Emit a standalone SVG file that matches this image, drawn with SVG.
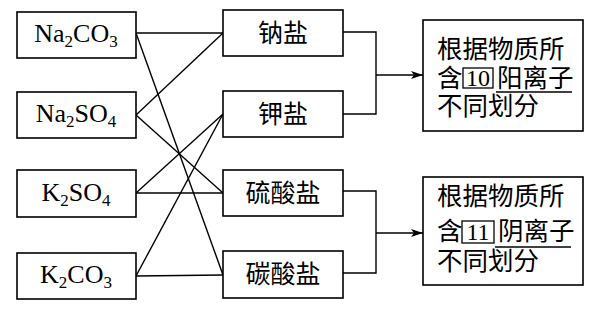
<svg xmlns="http://www.w3.org/2000/svg" width="591" height="318" viewBox="0 0 591 318">
<defs>
<style>
.box{fill:#fff;stroke:#000;stroke-width:1.6}
.ln{fill:none;stroke:#000;stroke-width:1.4}
.f{font-family:"Liberation Serif","Times New Roman",serif;font-size:26px;fill:#000}
.c{font-family:"Noto Sans CJK SC","Noto Sans",sans-serif;font-size:25px;fill:#000}
.r{font-family:"Noto Sans CJK SC","Noto Sans",sans-serif;font-size:25.5px;fill:#000}
.n{font-family:"Liberation Serif","Times New Roman",serif;font-size:24px;fill:#000}
</style>
<marker id="ar" viewBox="0 0 12 8" refX="12" refY="4" markerWidth="12" markerHeight="8" markerUnits="userSpaceOnUse" orient="auto">
<path d="M0,0 L12,4 L0,8 L3,4 Z" fill="#000"/>
</marker>
</defs>
<g id="connectors">
<line class="ln" x1="136" y1="33" x2="223" y2="33"/>
<line class="ln" x1="136" y1="33" x2="223" y2="275"/>
<line class="ln" x1="136" y1="115" x2="223" y2="33"/>
<line class="ln" x1="136" y1="115" x2="223" y2="193"/>
<line class="ln" x1="136" y1="193" x2="223" y2="114"/>
<line class="ln" x1="136" y1="193" x2="223" y2="193"/>
<line class="ln" x1="136" y1="276" x2="223" y2="114"/>
<line class="ln" x1="136" y1="276" x2="223" y2="275"/>
<polyline class="ln" points="343,32 376,32 376,114 343,114"/>
<line class="ln" x1="376" y1="75" x2="423" y2="75" marker-end="url(#ar)"/>
<polyline class="ln" points="343,191 376,191 376,273 343,273"/>
<line class="ln" x1="376" y1="233" x2="423" y2="233" marker-end="url(#ar)"/>
</g>
<g id="na2co3"><rect class="box" x="17" y="12" width="119" height="46"/><text class="f" x="76" y="42" text-anchor="middle">Na<tspan font-size="17" dy="5">2</tspan><tspan dy="-5">CO</tspan><tspan font-size="17" dy="5">3</tspan></text></g>
<g id="na2so4"><rect class="box" x="17" y="92" width="119" height="46"/><text class="f" x="76" y="122" text-anchor="middle">Na<tspan font-size="17" dy="5">2</tspan><tspan dy="-5">SO</tspan><tspan font-size="17" dy="5">4</tspan></text></g>
<g id="k2so4"><rect class="box" x="17" y="170" width="119" height="47"/><text class="f" x="76" y="201" text-anchor="middle">K<tspan font-size="17" dy="5">2</tspan><tspan dy="-5">SO</tspan><tspan font-size="17" dy="5">4</tspan></text></g>
<g id="k2co3"><rect class="box" x="17" y="253" width="119" height="46"/><text class="f" x="76" y="283" text-anchor="middle">K<tspan font-size="17" dy="5">2</tspan><tspan dy="-5">CO</tspan><tspan font-size="17" dy="5">3</tspan></text></g>
<g id="nayan"><rect class="box" x="223" y="10" width="120" height="46"/><text class="c" x="283" y="42" text-anchor="middle">钠盐</text></g>
<g id="jiayan"><rect class="box" x="223" y="91" width="120" height="46"/><text class="c" x="283" y="123" text-anchor="middle">钾盐</text></g>
<g id="liusuanyan"><rect class="box" x="223" y="170" width="120" height="46"/><text class="c" x="283" y="202" text-anchor="middle">硫酸盐</text></g>
<g id="tansuanyan"><rect class="box" x="223" y="251" width="120" height="47"/><text class="c" x="283" y="283" text-anchor="middle">碳酸盐</text></g>
<g id="cation">
<rect class="box" x="423" y="20" width="160" height="111"/>
<text class="r" x="437" y="58">根据物质所</text>
<text class="r" x="437" y="87">含</text>
<rect fill="none" stroke="#000" stroke-width="1.3" x="463" y="68" width="30" height="20"/>
<text class="n" x="478" y="86" text-anchor="middle">10</text>
<text class="r" x="497" y="87">阳离子</text>
<line class="ln" x1="496" y1="92" x2="572" y2="92"/>
<text class="r" x="437" y="115">不同划分</text>
</g>
<g id="anion">
<rect class="box" x="423" y="177" width="160" height="108"/>
<text class="r" x="437" y="205">根据物质所</text>
<text class="r" x="437" y="240">含</text>
<rect fill="none" stroke="#000" stroke-width="1.3" x="462" y="221" width="32" height="22"/>
<text class="n" x="478" y="240" text-anchor="middle">11</text>
<text class="r" x="498" y="240">阴离子</text>
<line class="ln" x1="495" y1="247" x2="571" y2="247"/>
<text class="r" x="437" y="270">不同划分</text>
</g>
</svg>
